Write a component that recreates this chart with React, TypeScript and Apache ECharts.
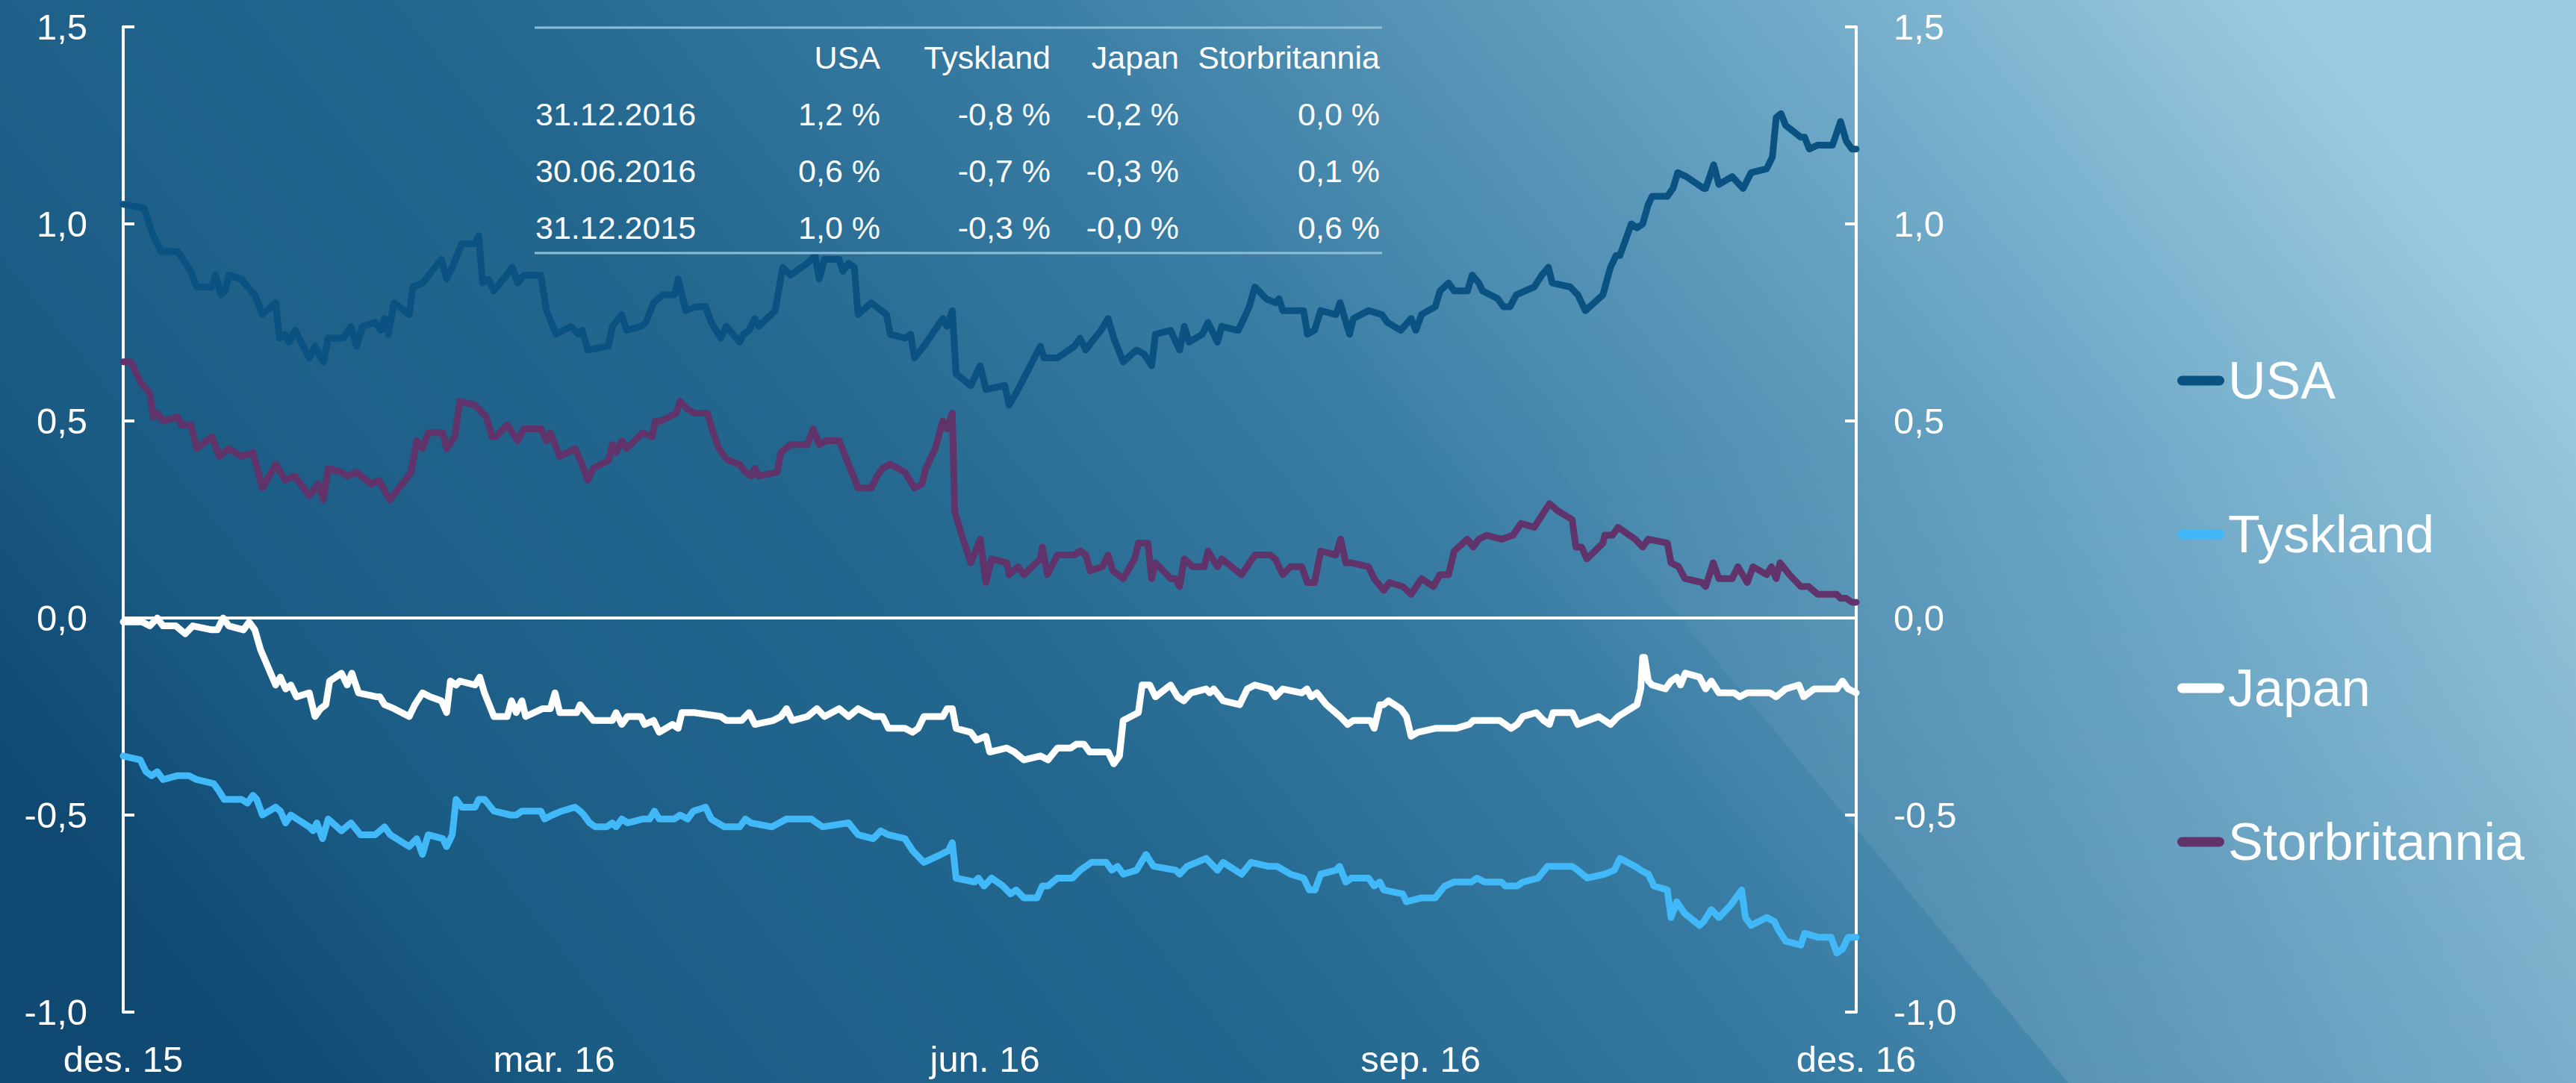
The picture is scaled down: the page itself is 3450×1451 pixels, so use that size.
import React, { useEffect, useRef } from "react";
import * as echarts from "echarts";

const FONT = "'Liberation Sans', Arial, Helvetica, sans-serif";

// x = days after 31.12.2015
const tickDays = [0, 91, 182, 274, 366];
const tickLabels = ["des. 15", "mar. 16", "jun. 16", "sep. 16", "des. 16"];

const seriesNames = ["USA", "Tyskland", "Japan", "Storbritannia"];
const seriesColors = ["#0a5281", "#41b8f7", "#ffffff", "#60336a"];

const usa: [number, number][] = [
  [0, 1.05], [4.4, 1.04], [6, 0.98], [8, 0.93], [11.5, 0.93], [14.3, 0.88], [15.5, 0.84], [18.7, 0.84], [19.5, 0.87], [20.7, 0.82],
  [21.5, 0.83], [22.3, 0.87], [25, 0.86], [26.2, 0.84], [27.8, 0.82], [29.4, 0.77], [32.2, 0.8], [33, 0.71], [34.2, 0.72], [35, 0.7],
  [36.3, 0.73], [39.3, 0.66], [40.5, 0.69], [42.3, 0.65], [43.3, 0.71], [46.5, 0.71], [48.1, 0.74], [49.3, 0.69], [50.5, 0.74], [53.2, 0.75],
  [54.4, 0.73], [55.2, 0.76], [56, 0.72], [57.2, 0.8], [60.4, 0.77], [61.2, 0.84], [63.2, 0.85], [67.2, 0.91], [68.3, 0.86], [69.5, 0.89],
  [71.5, 0.95], [74.3, 0.95], [75.1, 0.97], [75.9, 0.85], [77.1, 0.86], [78.3, 0.83], [82.2, 0.89], [83.3, 0.85], [84.6, 0.87], [88.2, 0.87],
  [89.4, 0.78], [91.4, 0.72], [94.6, 0.74], [96.1, 0.72], [96.9, 0.73], [98.1, 0.68], [102.5, 0.69], [103.3, 0.74], [105.3, 0.77], [106.3, 0.73],
  [109.3, 0.74], [110.4, 0.75], [112, 0.8], [114, 0.82], [116.4, 0.82], [117.2, 0.86], [118.8, 0.78], [121, 0.79], [123, 0.79], [124.2, 0.75],
  [126.2, 0.71], [127.4, 0.74], [130.2, 0.7], [131, 0.72], [132.2, 0.73], [133.4, 0.76], [134.2, 0.74], [137.7, 0.78], [139.3, 0.89], [140.9, 0.87],
  [144.5, 0.9], [146.1, 0.92], [147, 0.86], [148.1, 0.91], [151.2, 0.91], [152, 0.88], [153.2, 0.9], [154.4, 0.89], [155.2, 0.77], [158, 0.8],
  [161.2, 0.77], [162, 0.72], [165.1, 0.71], [166.3, 0.72], [167.1, 0.66], [169.1, 0.69], [173.1, 0.76], [174, 0.74], [175.1, 0.78], [175.9, 0.62],
  [179, 0.59], [181, 0.64], [182.2, 0.58], [186.2, 0.59], [187.1, 0.54], [189, 0.58], [193.7, 0.69], [194.5, 0.66], [197.3, 0.66], [200.9, 0.69],
  [202.1, 0.71], [203.3, 0.68], [204.5, 0.7], [206.5, 0.73], [208, 0.76], [209.2, 0.71], [211.2, 0.65], [214, 0.68], [215.6, 0.67], [217.2, 0.64],
  [218, 0.72], [221.2, 0.73], [223.1, 0.68], [224.1, 0.74], [225.1, 0.7], [227.9, 0.72], [229.1, 0.75], [231.1, 0.7], [232, 0.74], [235.5, 0.73],
  [236.7, 0.76], [237.8, 0.79], [239, 0.84], [241.4, 0.81], [243.3, 0.8], [244.1, 0.81], [244.9, 0.78], [249.3, 0.78], [250.1, 0.72], [251.6, 0.73],
  [252.9, 0.78], [256.1, 0.77], [257, 0.8], [259, 0.72], [259.8, 0.76], [263, 0.78], [265.8, 0.77], [267, 0.75], [269.8, 0.73], [272, 0.76],
  [273, 0.73], [274.2, 0.77], [277.1, 0.79], [278.1, 0.83], [279.9, 0.85], [281.1, 0.83], [283.9, 0.83], [284.9, 0.87], [286.3, 0.85], [287.1, 0.83],
  [290.3, 0.81], [291.5, 0.79], [292.9, 0.79], [294.2, 0.82], [298, 0.84], [299.6, 0.87], [301, 0.89], [301.8, 0.85], [305.6, 0.84], [307.2, 0.82],
  [308.8, 0.78], [312.5, 0.82], [314.1, 0.89], [315.3, 0.92], [316.1, 0.92], [318.5, 1.0], [319.7, 0.99], [320.9, 1.0], [322.1, 1.05], [322.9, 1.07],
  [326.1, 1.07], [327.3, 1.09], [328.3, 1.13], [330.1, 1.12], [333.8, 1.09], [334.2, 1.09], [335.9, 1.15], [337, 1.1], [339.8, 1.12], [342.1, 1.09],
  [343.8, 1.13], [347.1, 1.14], [348.3, 1.17], [349.1, 1.27], [350.1, 1.28], [351.1, 1.25], [354.3, 1.22], [355.1, 1.22], [356.1, 1.19], [357.9, 1.2],
  [361, 1.2], [362.7, 1.26], [363.9, 1.21], [365.1, 1.19], [366, 1.19],
];

const tyskland: [number, number][] = [
  [0, -0.35], [3.6, -0.36], [4.8, -0.39], [6, -0.4], [7.2, -0.39], [8.4, -0.41], [11.5, -0.4], [13.9, -0.4], [15.5, -0.41], [19.1, -0.42],
  [20.3, -0.44], [21.3, -0.46], [25, -0.46], [26.2, -0.47], [27.4, -0.45], [28.2, -0.46], [29.4, -0.5], [32.2, -0.48], [33.2, -0.49], [34.3, -0.52],
  [35.4, -0.5], [39.3, -0.53], [40.1, -0.54], [40.9, -0.52], [42.1, -0.56], [43.3, -0.51], [46.1, -0.54], [48.1, -0.52], [50.1, -0.55], [53.2, -0.55],
  [55.2, -0.53], [56.4, -0.55], [60.4, -0.58], [62, -0.56], [63.2, -0.6], [64.4, -0.55], [67.5, -0.56], [68.3, -0.58], [69.5, -0.55], [70.3, -0.46],
  [71.5, -0.48], [74.3, -0.48], [75.1, -0.46], [76.3, -0.46], [78.3, -0.49], [81.8, -0.5], [83, -0.5], [84.2, -0.49], [88.2, -0.49], [89, -0.51],
  [90.6, -0.5], [92.6, -0.49], [95.4, -0.48], [96.5, -0.49], [97.3, -0.5], [98.5, -0.52], [99.7, -0.53], [102.1, -0.53], [103.3, -0.52], [104.1, -0.53],
  [105.3, -0.51], [106.5, -0.52], [109.7, -0.51], [111.2, -0.51], [112.2, -0.49], [113.2, -0.51], [116.4, -0.51], [117.6, -0.5], [119.2, -0.51], [120.4, -0.49],
  [123, -0.48], [124.2, -0.51], [127, -0.53], [130.2, -0.53], [131.4, -0.51], [132.6, -0.52], [137, -0.53], [140.1, -0.51], [145.3, -0.51], [147.7, -0.53],
  [153.2, -0.52], [155.2, -0.55], [158.4, -0.56], [160, -0.54], [161.6, -0.55], [165.1, -0.56], [166.7, -0.59], [169.1, -0.62], [172.7, -0.6], [174.3, -0.59],
  [175.1, -0.57], [175.9, -0.66], [179.8, -0.67], [180.6, -0.66], [181.8, -0.68], [183.4, -0.66], [185.8, -0.68], [187.4, -0.7], [188.6, -0.69], [190.2, -0.71],
  [193, -0.71], [194.1, -0.68], [195.3, -0.68], [197.3, -0.66], [200.5, -0.66], [202.1, -0.64], [204.5, -0.62], [207.6, -0.62], [208.8, -0.64], [210, -0.63],
  [211.2, -0.65], [214, -0.64], [216, -0.6], [217.6, -0.63], [222.3, -0.64], [223.1, -0.65], [224.7, -0.63], [228.7, -0.61], [231.1, -0.64], [232.3, -0.62],
  [236.2, -0.65], [238.2, -0.62], [241.8, -0.63], [243.7, -0.63], [246.5, -0.65], [249.3, -0.66], [250.5, -0.69], [251.7, -0.69], [252.9, -0.65], [256.1, -0.64],
  [256.9, -0.63], [258.2, -0.67], [259.4, -0.66], [263, -0.66], [264.2, -0.68], [265.4, -0.67], [266.2, -0.69], [270.2, -0.7], [271, -0.72], [274.2, -0.71],
  [277.1, -0.71], [279.1, -0.68], [281.1, -0.67], [284.7, -0.67], [285.9, -0.66], [287.5, -0.67], [291.1, -0.67], [291.9, -0.68], [294.4, -0.68], [295.6, -0.67],
  [298.8, -0.66], [300.8, -0.63], [302.4, -0.63], [306, -0.63], [307.2, -0.64], [309.2, -0.66], [312.9, -0.65], [314.9, -0.64], [316.1, -0.61], [319.3, -0.63],
  [320.5, -0.64], [322.1, -0.65], [323.3, -0.68], [326.1, -0.69], [326.9, -0.76], [328.1, -0.72], [329.8, -0.75], [332.9, -0.78], [333.8, -0.77], [335.4, -0.74],
  [337, -0.76], [339.4, -0.73], [341.8, -0.69], [342.6, -0.76], [343.8, -0.78], [347.1, -0.76], [348.7, -0.77], [349.5, -0.79], [351.1, -0.82], [354.3, -0.83],
  [355.1, -0.8], [357.9, -0.81], [360.7, -0.81], [361.9, -0.85], [363.1, -0.84], [364.3, -0.81], [366, -0.81],
];

const japan: [number, number][] = [
  [0, -0.01], [4, -0.01], [5.6, -0.02], [7.2, 0], [8.4, -0.02], [11.1, -0.02], [13.1, -0.04], [14.7, -0.02], [18.7, -0.03], [19.9, -0.03],
  [21.1, 0], [22.3, -0.02], [25.4, -0.03], [26.6, -0.01], [27.8, -0.03], [29, -0.08], [32.2, -0.17], [33.2, -0.15], [34.3, -0.18], [35.4, -0.17],
  [36.6, -0.2], [39.3, -0.19], [40.5, -0.25], [41.7, -0.23], [42.8, -0.22], [43.6, -0.16], [46.1, -0.14], [47.3, -0.17], [48.3, -0.14], [49.7, -0.19],
  [53.6, -0.2], [54.2, -0.2], [55.2, -0.22], [57.2, -0.23], [60.4, -0.25], [61.6, -0.22], [63.2, -0.19], [64.8, -0.2], [67.2, -0.21], [68.3, -0.24],
  [69.1, -0.16], [70.3, -0.17], [71.1, -0.16], [74.3, -0.17], [75.3, -0.15], [76.3, -0.19], [78.3, -0.25], [81.1, -0.25], [82, -0.21], [83, -0.24],
  [84.2, -0.21], [85, -0.25], [88.6, -0.23], [90.2, -0.23], [91.2, -0.19], [92.2, -0.24], [95.8, -0.24], [96.5, -0.22], [99.3, -0.26], [102.1, -0.26],
  [103.3, -0.26], [104.1, -0.24], [105.3, -0.27], [106.5, -0.25], [109.3, -0.25], [110.1, -0.27], [112, -0.26], [113.2, -0.29], [116, -0.27], [117.2, -0.28],
  [118, -0.24], [120.6, -0.24], [126.2, -0.25], [127.4, -0.26], [130.6, -0.26], [132.2, -0.24], [133.4, -0.27], [137.3, -0.26], [138.9, -0.25], [140.1, -0.23],
  [141.3, -0.26], [144.5, -0.25], [146.5, -0.23], [148.1, -0.25], [151.2, -0.23], [153.2, -0.25], [155.2, -0.23], [158.4, -0.25], [160.4, -0.25], [161.6, -0.28],
  [165.1, -0.28], [166.7, -0.29], [167.9, -0.28], [169.1, -0.25], [173.1, -0.25], [174, -0.23], [175.1, -0.23], [175.9, -0.28], [179, -0.29], [180.2, -0.31],
  [182.2, -0.3], [183, -0.34], [186.6, -0.33], [188.2, -0.34], [190.2, -0.36], [193.7, -0.35], [195.3, -0.36], [197.3, -0.33], [200.1, -0.33], [201.3, -0.32],
  [202.9, -0.32], [204.1, -0.34], [207.3, -0.34], [208, -0.34], [209.2, -0.37], [210.4, -0.35], [211.2, -0.26], [214.4, -0.24], [215.2, -0.17], [216.8, -0.17],
  [218, -0.2], [221.2, -0.17], [222.7, -0.2], [224, -0.21], [225.5, -0.19], [228.7, -0.18], [229.5, -0.19], [230.3, -0.18], [232.3, -0.21], [235.8, -0.22],
  [237.4, -0.18], [239, -0.17], [242.2, -0.18], [243.3, -0.2], [244.9, -0.18], [248.9, -0.19], [250, -0.18], [250.9, -0.2], [252.1, -0.19], [254.1, -0.22],
  [257, -0.25], [258.6, -0.27], [259.8, -0.26], [263.4, -0.26], [264.2, -0.28], [265.4, -0.22], [266.2, -0.22], [267.2, -0.21], [269.8, -0.23], [271, -0.25],
  [272, -0.3], [273.4, -0.29], [277.1, -0.28], [277.9, -0.28], [281.5, -0.28], [284.3, -0.27], [285.1, -0.26], [287.9, -0.26], [290.7, -0.26], [293.1, -0.28],
  [294.4, -0.27], [295.6, -0.25], [298.4, -0.24], [300, -0.26], [301.2, -0.27], [302, -0.24], [306, -0.24], [307.2, -0.27], [311.6, -0.25], [314.1, -0.27],
  [315.7, -0.25], [319.7, -0.22], [320.5, -0.18], [320.9, -0.1], [321.3, -0.1], [322.1, -0.16], [322.9, -0.17], [325.7, -0.18], [326.9, -0.16], [328.1, -0.15],
  [328.9, -0.17], [329.9, -0.14], [332.9, -0.15], [334.2, -0.18], [335.4, -0.16], [337, -0.19], [340.2, -0.19], [341.4, -0.2], [343, -0.19], [347.8, -0.19],
  [349.1, -0.2], [351.1, -0.18], [353.9, -0.17], [354.9, -0.2], [357.1, -0.18], [361.9, -0.18], [363.1, -0.16], [364.3, -0.18], [366, -0.19],
];

const storbritannia: [number, number][] = [
  [0, 0.65], [1.6, 0.65], [3.6, 0.6], [5.6, 0.57], [6.4, 0.51], [7.2, 0.52], [8.4, 0.5], [11.5, 0.51], [12.3, 0.49], [14.3, 0.49],
  [15.5, 0.43], [18.7, 0.46], [20.3, 0.41], [22.3, 0.43], [25, 0.41], [27.4, 0.42], [29.4, 0.33], [32.2, 0.39], [34.2, 0.35], [36.2, 0.36],
  [39.3, 0.31], [41.2, 0.34], [42.3, 0.3], [43.3, 0.38], [46.1, 0.37], [47.3, 0.36], [49.3, 0.37], [52.4, 0.34], [54, 0.35], [56.3, 0.3],
  [60.8, 0.37], [62, 0.45], [63.2, 0.43], [64.4, 0.47], [67.5, 0.47], [68.3, 0.43], [70, 0.46], [71.1, 0.55], [74.3, 0.54], [76.7, 0.51],
  [77.9, 0.46], [78.7, 0.46], [81.1, 0.49], [83.3, 0.45], [84.6, 0.48], [88.2, 0.48], [89.4, 0.45], [90.2, 0.47], [92.2, 0.41], [95.4, 0.43],
  [96.9, 0.39], [98.1, 0.35], [99.3, 0.38], [102.5, 0.4], [103.3, 0.44], [104.1, 0.42], [105.3, 0.45], [106.3, 0.43], [109.7, 0.47], [111.7, 0.46],
  [112.4, 0.5], [113.6, 0.5], [116.8, 0.52], [117.6, 0.55], [119.2, 0.53], [120.6, 0.52], [123.4, 0.52], [124.6, 0.47], [125.8, 0.43], [127, 0.41],
  [127.8, 0.4], [130.2, 0.39], [131.4, 0.37], [132.6, 0.36], [133.4, 0.38], [134.2, 0.36], [138.1, 0.37], [138.9, 0.42], [140.9, 0.44], [144.5, 0.44],
  [145.7, 0.48], [147, 0.44], [148.5, 0.45], [151.2, 0.45], [153.2, 0.39], [155.2, 0.33], [158, 0.33], [159.2, 0.36], [160.4, 0.38], [162, 0.39],
  [165.1, 0.37], [167.1, 0.33], [168.7, 0.34], [169.5, 0.38], [171.5, 0.43], [173.1, 0.5], [174, 0.48], [175.1, 0.52], [175.6, 0.27], [177.1, 0.21],
  [179, 0.14], [181, 0.2], [182.2, 0.09], [183.4, 0.15], [186.6, 0.14], [187.1, 0.11], [189, 0.13], [190.2, 0.11], [193.7, 0.15], [194.1, 0.18],
  [195.2, 0.11], [197.3, 0.16], [200.9, 0.16], [202.1, 0.17], [203.3, 0.16], [204.2, 0.12], [206.8, 0.13], [208, 0.16], [209, 0.12], [211.2, 0.1],
  [213.6, 0.15], [214.4, 0.19], [216.4, 0.19], [217.2, 0.1], [218, 0.14], [221.2, 0.1], [222.2, 0.1], [223.1, 0.08], [224.1, 0.15], [225.9, 0.13],
  [228.3, 0.13], [229.1, 0.17], [231.1, 0.13], [232, 0.15], [236.2, 0.11], [239, 0.16], [242.2, 0.16], [243.3, 0.15], [244.9, 0.11], [246.5, 0.13],
  [248.9, 0.13], [250.1, 0.09], [251.6, 0.09], [252.9, 0.17], [256.1, 0.16], [257.1, 0.2], [258.2, 0.14], [259.4, 0.14], [263, 0.13], [264.2, 0.1],
  [266.2, 0.07], [267.4, 0.09], [270.2, 0.08], [272, 0.06], [274.2, 0.1], [276.7, 0.08], [278.1, 0.11], [279.9, 0.11], [281.1, 0.17], [283.9, 0.2],
  [285.1, 0.18], [286.3, 0.2], [287.9, 0.21], [291.1, 0.2], [293.5, 0.21], [295.2, 0.24], [298, 0.23], [299.6, 0.26], [301.2, 0.29], [303.2, 0.27],
  [306, 0.25], [306.8, 0.18], [308, 0.18], [309.1, 0.15], [312.5, 0.19], [312.9, 0.21], [314.5, 0.21], [315.7, 0.23], [319.3, 0.2], [320.9, 0.18],
  [322.1, 0.2], [326.1, 0.19], [326.9, 0.14], [328.5, 0.13], [329.8, 0.1], [333.4, 0.09], [334.2, 0.08], [335.8, 0.14], [337, 0.1], [339.8, 0.1],
  [341, 0.13], [343, 0.09], [344.2, 0.13], [347.1, 0.11], [348.1, 0.13], [349.1, 0.1], [349.9, 0.14], [351.9, 0.11], [354.3, 0.08], [355.9, 0.08],
  [357.9, 0.06], [361.9, 0.06], [362.7, 0.05], [363.9, 0.05], [365.1, 0.04], [366, 0.04],
];

// summary table
const tableHeader = ["USA", "Tyskland", "Japan", "Storbritannia"];
const tableDates = ["31.12.2016", "30.06.2016", "31.12.2015"];
const tableValues = [
  ["1,2 %", "-0,8 %", "-0,2 %", "0,0 %"],
  ["0,6 %", "-0,7 %", "-0,3 %", "0,1 %"],
  ["1,0 %", "-0,3 %", "-0,0 %", "0,6 %"],
];

const W = 3450;
const H = 1451;

function fmtNum(v: number) {
  return v.toFixed(1).replace(".", ",");
}

export default function App() {
  const ref = useRef<HTMLDivElement>(null);

  useEffect(() => {
    if (!ref.current) return;
    const chart = echarts.init(ref.current, null, { renderer: "svg" });

    const colRight = [1179, 1407, 1579, 1848];
    const dateLeft = 717;
    const rowY = [153, 229, 305];
    const headerY = 77;
    const tableFont = 43;

    const tableEls: any[] = [];
    tableEls.push({
      type: "line", silent: true, z: 5,
      shape: { x1: 716, y1: 37, x2: 1851, y2: 37 },
      style: { stroke: "#8fbdd6", lineWidth: 3 },
    });
    tableEls.push({
      type: "line", silent: true, z: 5,
      shape: { x1: 716, y1: 339, x2: 1851, y2: 339 },
      style: { stroke: "#8fbdd6", lineWidth: 3 },
    });
    tableHeader.forEach((h, i) => {
      tableEls.push({
        type: "text", silent: true, z: 5,
        style: { text: h, x: colRight[i], y: headerY, fill: "#ffffff", fontSize: tableFont, fontFamily: FONT, align: "right", verticalAlign: "middle" },
      });
    });
    tableDates.forEach((d, r) => {
      tableEls.push({
        type: "text", silent: true, z: 5,
        style: { text: d, x: dateLeft, y: rowY[r], fill: "#ffffff", fontSize: tableFont, fontFamily: FONT, align: "left", verticalAlign: "middle" },
      });
      tableValues[r].forEach((v, c) => {
        tableEls.push({
          type: "text", silent: true, z: 5,
          style: { text: v, x: colRight[c], y: rowY[r], fill: "#ffffff", fontSize: tableFont, fontFamily: FONT, align: "right", verticalAlign: "middle" },
        });
      });
    });

    const bg = {
      type: "rect", silent: true, z: -10,
      shape: { x: 0, y: 0, width: W, height: H },
      style: {
        fill: new echarts.graphic.LinearGradient(0, 0.68, 1, 0.34, [
          { offset: 0, color: "#104a73" },
          { offset: 0.12, color: "#1b5c85" },
          { offset: 0.36, color: "#23678f" },
          { offset: 0.56, color: "#3a7da4" },
          { offset: 0.78, color: "#66a2c2" },
          { offset: 1, color: "#9acadf" },
        ]),
      },
    };
    const overlay = {
      type: "polygon", silent: true, z: -9,
      shape: { points: [[1560, 0], [2770, H], [W, H], [W, 0]] },
      style: {
        fill: new echarts.graphic.LinearGradient(0, 0, 0, 1, [
          { offset: 0, color: "rgba(255,255,255,0)" },
          { offset: 0.4, color: "rgba(255,255,255,0)" },
          { offset: 0.65, color: "rgba(255,255,255,0.05)" },
          { offset: 1, color: "rgba(255,255,255,0.1)" },
        ]),
      },
    };

    const seriesData = [usa, tyskland, japan, storbritannia];

    const yAxisBase = {
      type: "value",
      min: -1,
      max: 1.5,
      interval: 0.5,
      splitLine: { show: false },
      axisLine: { show: true, onZero: false, lineStyle: { color: "#ffffff", width: 4 } },
      axisTick: { show: true, inside: true, length: 15, lineStyle: { color: "#ffffff", width: 4 } },
    };

    const option: any = {
      animation: false,
      graphic: [bg, overlay, ...tableEls],
      grid: { left: 165, right: W - 2486, top: 36, bottom: H - 1356, containLabel: false },
      legend: {
        orient: "vertical",
        left: 2911,
        top: 465,
        itemWidth: 63,
        itemHeight: 13,
        itemGap: 126,
        icon: "path://M6.5,0 H56.5 A6.5,6.5 0 0 1 56.5,13 H6.5 A6.5,6.5 0 0 1 6.5,0 Z",
        textStyle: { color: "#ffffff", fontSize: 70, fontFamily: FONT, lineHeight: 80, padding: 0 },
        data: seriesNames,
        selectedMode: false,
      },
      xAxis: {
        type: "value",
        min: 0,
        max: 366,
        splitLine: { show: false },
        axisLine: { show: false, onZero: false },
        axisTick: { show: false },
        axisLabel: {
          customValues: tickDays,
          formatter: (v: number) => {
            const i = tickDays.indexOf(Math.round(v));
            return i >= 0 ? tickLabels[i] : "";
          },
          color: "#ffffff",
          fontSize: 49,
          fontFamily: FONT,
          margin: 38,
        },
      },
      yAxis: [
        {
          ...yAxisBase,
          position: "left",
          axisLabel: { color: "#ffffff", fontSize: 49, fontFamily: FONT, margin: 48, formatter: fmtNum },
        },
        {
          ...yAxisBase,
          position: "right",
          axisLabel: { color: "#ffffff", fontSize: 49, fontFamily: FONT, margin: 50, formatter: fmtNum },
        },
      ],
      series: seriesNames.map((name, i) => ({
        name,
        type: "line",
        yAxisIndex: 0,
        data: seriesData[i],
        color: seriesColors[i],
        showSymbol: false,
        symbol: "none",
        lineStyle: { width: 9, color: seriesColors[i], cap: "round", join: "round" },
        emphasis: { disabled: true },
        z: 3,
        ...(i === 0
          ? {
              markLine: {
                silent: true,
                symbol: ["none", "none"],
                label: { show: false },
                lineStyle: { color: "#ffffff", width: 4, type: "solid" },
                data: [{ yAxis: 0 }],
              },
            }
          : {}),
      })),
    };

    chart.setOption(option);
    return () => chart.dispose();
  }, []);

  return (
    <div
      ref={ref}
      style={{ position: "absolute", left: 0, top: 0, width: W, height: H }}
    />
  );
}
